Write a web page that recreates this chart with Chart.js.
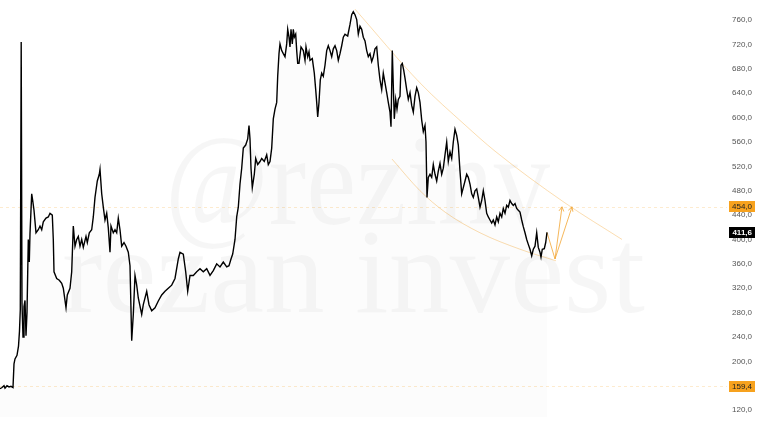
<!DOCTYPE html>
<html><head><meta charset="utf-8">
<script src="https://cdn.jsdelivr.net/npm/chart.js@4.4.0/dist/chart.umd.min.js"></script>
<style>html,body{margin:0;padding:0;background:#fff;overflow:hidden}#wrap{width:758px;height:422px;position:relative}</style>
</head><body><div id="wrap"><canvas id="c" width="758" height="422"></canvas></div>
<script>
// ---- data ----
const days = [0,2,4,5,7,9,11,13,14,15,17,18.5,19.5,20.3,21.2,22,23,24,25,26,27,28.3,29.3,30,31.7,32.7,34,36,38.3,40,41.7,43.3,46,48.3,50,52.3,53.3,54,56.7,59.3,61.7,63.3,66,67.3,70,71.7,73.3,75,76.7,78.3,80,81.7,83.3,86,87.3,89.3,91.7,93.3,95,97.3,99.3,100,101.7,103.3,105,106.7,108.3,110,111,113.3,115,116.7,118.3,120,121.7,124,126,128.3,130,131.7,133.3,135,136.7,138.3,141.7,143.3,146.7,149,151.7,155,158.3,161.7,165,168.3,171.7,175,178.3,180,183.3,185.7,187.7,190,193.3,196.7,200,203.3,206.7,210,213.3,216.7,220,223.3,226.7,229,231,232.7,235,236.7,238.3,240,241.7,243.3,245.7,247.7,249,250,251,252.3,254.3,255.7,257.7,260,261.7,264.3,266.7,268.3,270,271.7,273.3,275,276.7,277.7,279,280,281.7,283.3,285,286.7,287.7,289,290,291,292.3,293.3,294.3,295.7,296.7,297.7,299,301,303.3,305,306,307.7,309,310,312.3,314.3,315.7,316.7,317.7,319,320.3,321.7,323.3,325,326.7,328.3,330,331.7,333.3,335,336.7,338.3,340,341.7,343.3,345,347.7,350,351.7,353.3,355,356.7,358.3,360,361.7,363.3,365,366.7,368.3,370,371.7,373.3,375,376.7,378.3,380,381.7,383.3,385,386.7,388.3,390,391,392.3,393.3,394.3,395.7,397,398.3,400,401,402.3,403.7,405,406.7,408.3,410,411.7,413.3,415,416.7,418.3,420,421.7,423.3,425,426,427,428.3,430,431.7,433.3,435,436.7,438.3,440,441.7,443.3,445,446.7,448.3,450,451.7,453.3,455,456.7,458.3,460,461.7,463.3,465,466.7,468.3,470,471.7,473.3,475,476.7,478.3,480,481.7,483.3,485,486.7,488.3,490,491.7,493.3,495,496.7,498.3,500,501.7,503.3,505,506.7,508.3,510,511.7,513.3,515,516.7,518.3,520,521.7,523.3,525,526.7,528.3,530,531.7,533.3,535,536.7,538.3,540,541,542.3,544.3,545.7,547];
const prices = [155,157,160,156,160,158,159,157,196,204,210,225,250,285,724,295,240,290,300,242,280,400,363,410,475,464,448,411,416,422,416,429,435,437,443,440,400,347,336,333,328,320,288,309,320,347,422,389,400,405,389,400,387,405,395,411,416,437,469,496,507,515,475,453,432,443,419,379,422,411,416,411,435,416,389,395,389,379,357,234,277,341,325,304,277,293,315,293,283,288,299,309,315,320,325,336,368,379,376,347,315,341,341,347,352,347,352,341,349,360,355,363,355,357,368,376,400,437,453,491,517,550,555,565,587,565,517,485,507,533,523,528,533,528,539,523,528,550,598,614,625,668,705,721,710,705,700,721,745,732,716,745,721,745,732,737,710,689,689,716,710,694,716,700,708,694,697,673,646,625,601,625,662,673,668,686,710,718,710,700,713,718,710,694,705,718,732,737,734,753,769,774,769,761,737,750,745,732,726,710,700,705,692,700,713,716,686,662,646,673,657,641,625,609,585,710,652,598,630,614,630,635,686,689,678,665,646,630,641,620,609,635,649,641,625,596,577,587,560,469,502,507,502,523,507,496,512,525,507,517,539,560,528,544,533,560,581,571,555,512,475,485,496,507,502,491,475,469,480,483,469,453,464,480,464,443,437,432,427,432,424,437,429,443,437,451,443,456,453,464,459,456,459,451,448,445,432,421,411,400,392,384,373,384,389,411,387,379,371,384,385,395,411.6];
const yTicks = [120,160,200,240,280,320,360,400,440,480,520,560,600,640,680,720,760];
const upperTrendDays = [355,420,465,495,565,622];
const upperTrendVals = [778,657,588,545,460,400];
const lowerTrendDays = [392,420,445,480,520,556];
const lowerTrendVals = [532,480,445,411,384,365];
const arrowADays = [547,555,562];
const arrowAVals = [411.6,368,453.6];
const arrowBDays = [555,572];
const arrowBVals = [368,453.6];
const levelValues = [454.0,159.4];
const lastPrice = 411.6;
const watermarkLines = ['@rezinv','rezan invest'];

const pts = (xs, ys) => xs.map((x,i)=>({x:x, y:ys[i]}));
const fmt = v => Number(v).toFixed(1).replace('.', ',');
const ORANGE = '#f7a21e';

const overlay = {
  id:'overlay',
  beforeDatasetsDraw(chart){
    const {ctx, chartArea:a, scales:{y}} = chart;
    ctx.save();
    // watermark
    ctx.fillStyle = 'rgba(0,0,0,0.035)';
    ctx.textAlign = 'left';
    ctx.textBaseline = 'alphabetic';
    const wm = [
      {t:watermarkLines[0], x0:165, w:385, base:224, sy:1.15},
      {t:watermarkLines[1], x0:62, w:583, base:312, sy:1.0}
    ];
    wm.forEach(o=>{
      ctx.font = '100px "Liberation Serif", "DejaVu Serif", serif';
      const m = ctx.measureText(o.t).width;
      const sx = o.w / m;
      ctx.save();
      ctx.translate(o.x0, o.base);
      ctx.scale(sx, sx*o.sy);
      ctx.fillText(o.t, 0, 0);
      ctx.restore();
    });
    // level lines
    ctx.strokeStyle = 'rgba(245,166,35,0.22)';
    ctx.lineWidth = 1;
    ctx.setLineDash([3,3]);
    levelValues.forEach(v=>{
      const py = Math.round(y.getPixelForValue(v))+0.5;
      ctx.beginPath(); ctx.moveTo(a.left, py); ctx.lineTo(a.right, py); ctx.stroke();
    });
    ctx.restore();
  },
  afterDatasetsDraw(chart){
    const {ctx, scales:{x,y}} = chart;
    ctx.save();
    ctx.strokeStyle = 'rgba(242,165,50,0.8)';
    ctx.lineWidth = 1;
    const head = (xs, ys) => {
      const n = xs.length;
      const x1 = x.getPixelForValue(xs[n-2]), y1 = y.getPixelForValue(ys[n-2]);
      const x2 = x.getPixelForValue(xs[n-1]), y2 = y.getPixelForValue(ys[n-1]);
      const ang = Math.atan2(y2-y1, x2-x1);
      const L = 5;
      ctx.beginPath();
      ctx.moveTo(x2 - L*Math.cos(ang-0.5), y2 - L*Math.sin(ang-0.5));
      ctx.lineTo(x2, y2);
      ctx.lineTo(x2 - L*Math.cos(ang+0.5), y2 - L*Math.sin(ang+0.5));
      ctx.stroke();
    };
    head(arrowADays, arrowAVals);
    head(arrowBDays, arrowBVals);
    ctx.restore();
  },
  afterDraw(chart){
    const {ctx, scales:{y}} = chart;
    ctx.save();
    const boxes = [
      {v:levelValues[0], bg:ORANGE, fg:'#222', bold:false},
      {v:lastPrice, bg:'#000', fg:'#fff', bold:true},
      {v:levelValues[1], bg:ORANGE, fg:'#222', bold:false}
    ];
    boxes.forEach(b=>{
      const py = y.getPixelForValue(b.v);
      ctx.fillStyle = b.bg;
      ctx.fillRect(729, Math.round(py-5.5), 26, 11);
      ctx.fillStyle = b.fg;
      ctx.font = (b.bold?'bold ':'') + '8px "Liberation Sans", Arial, sans-serif';
      ctx.textAlign = 'right';
      ctx.textBaseline = 'middle';
      ctx.fillText(fmt(b.v), 752, py+0.5);
    });
    ctx.restore();
  }
};

new Chart(document.getElementById('c'), {
  type:'line',
  data:{
    datasets:[
      {data:pts(days,prices), borderColor:'#000', borderWidth:1.4, pointRadius:0, tension:0, fill:'start', backgroundColor:'rgba(0,0,0,0.01)', order:0},
      {data:pts(upperTrendDays,upperTrendVals), borderColor:'rgba(245,170,60,0.4)', borderWidth:1, pointRadius:0, cubicInterpolationMode:'monotone', fill:false, order:1},
      {data:pts(lowerTrendDays,lowerTrendVals), borderColor:'rgba(245,170,60,0.4)', borderWidth:1, pointRadius:0, cubicInterpolationMode:'monotone', fill:false, order:1},
      {data:pts(arrowADays,arrowAVals), borderColor:'rgba(242,165,50,0.8)', borderWidth:1, pointRadius:0, tension:0, fill:false, order:1},
      {data:pts(arrowBDays,arrowBVals), borderColor:'rgba(242,165,50,0.8)', borderWidth:1, pointRadius:0, tension:0, fill:false, order:1}
    ]
  },
  options:{
    responsive:false, animation:false, devicePixelRatio:1,
    layout:{padding:{left:0,right:6,top:0,bottom:0}},
    plugins:{legend:{display:false}, tooltip:{enabled:false}},
    scales:{
      x:{type:'linear', min:0, max:727, display:false},
      y:{
        position:'right', min:108.3, max:785.2,
        grid:{display:false}, border:{display:false},
        afterFit(s){ s.width = 25; },
        afterBuildTicks(s){ s.ticks = yTicks.map(v=>({value:v})); },
        ticks:{
          font:{size:8, family:'"Liberation Sans", Arial, sans-serif'}, color:'#555',
          crossAlign:'far', padding:0,
          callback:(v)=>fmt(v)
        }
      }
    }
  },
  plugins:[overlay]
});
</script>
</body></html>
